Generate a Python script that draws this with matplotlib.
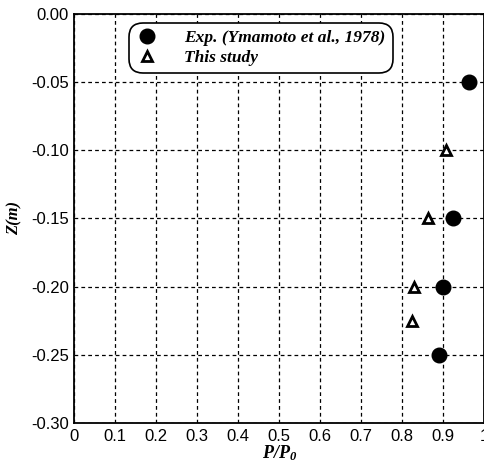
import matplotlib
matplotlib.use('Agg')
import matplotlib.pyplot as plt
from matplotlib.ticker import FormatStrFormatter

plt.rcParams['axes.unicode_minus'] = False
plt.rcParams['mathtext.fontset'] = 'custom'
plt.rcParams['mathtext.it'] = 'Liberation Serif:italic:bold'
plt.rcParams['mathtext.rm'] = 'Liberation Serif:italic:bold'

# measured data
exp_p = [0.963, 0.924, 0.900, 0.891]
exp_z = [-0.05, -0.15, -0.20, -0.25]
study_p = [0.907, 0.863, 0.830, 0.824]
study_z = [-0.10, -0.15, -0.20, -0.225]

x_ticks = [0, 0.1, 0.2, 0.3, 0.4, 0.5, 0.6, 0.7, 0.8, 0.9, 1]
x_labels = ['0', '0.1', '0.2', '0.3', '0.4', '0.5', '0.6', '0.7', '0.8', '0.9', '1']
y_ticks = [0.0, -0.05, -0.10, -0.15, -0.20, -0.25, -0.30]

serif = {'family': 'Liberation Serif', 'style': 'italic', 'weight': 'bold'}

fig = plt.figure(figsize=(4.85, 4.70), dpi=100)
ax = fig.add_axes([0.153, 0.10, 0.845, 0.871])

ax.plot(exp_p, exp_z, 'o', color='black', markersize=10.5,
        label='Exp. (Ymamoto et al., 1978)', zorder=3)
ax.plot(study_p, study_z, '^', markerfacecolor='white', markeredgecolor='black',
        markeredgewidth=2, markersize=7, label='This study', zorder=3)

ax.set_xlim(0, 1)
ax.set_ylim(-0.30, 0.0)
ax.set_xticks(x_ticks)
ax.set_xticklabels(x_labels)
ax.set_yticks(y_ticks)
ax.yaxis.set_major_formatter(FormatStrFormatter('%.2f'))
ax.tick_params(length=0, labelsize=12, pad=4)
for lab in ax.get_xticklabels() + ax.get_yticklabels():
    lab.set_family('Liberation Sans')

ax.grid(True, color='black', linestyle=(0, (3, 2.5)), linewidth=0.9)
for s in ax.spines.values():
    s.set_linewidth(1.3)

ax.set_xlabel('$P/P_0$', fontsize=13, labelpad=0)
ax.set_ylabel('Z(m)', fontdict=serif, fontsize=12, labelpad=6)

leg = ax.legend(loc='upper center', bbox_to_anchor=(0.455, 0.978), borderaxespad=0,
                frameon=True, fancybox=True, edgecolor='black', framealpha=1,
                prop={'family': 'Liberation Serif', 'style': 'italic', 'weight': 'bold', 'size': 12.5},
                handletextpad=1.5, borderpad=0.4, labelspacing=0.25, handlelength=1.3)
leg.get_frame().set_linewidth(1.2)
leg.get_frame().set_boxstyle('round', pad=0.0, rounding_size=0.8)

fig.savefig('out.png', dpi=100)
